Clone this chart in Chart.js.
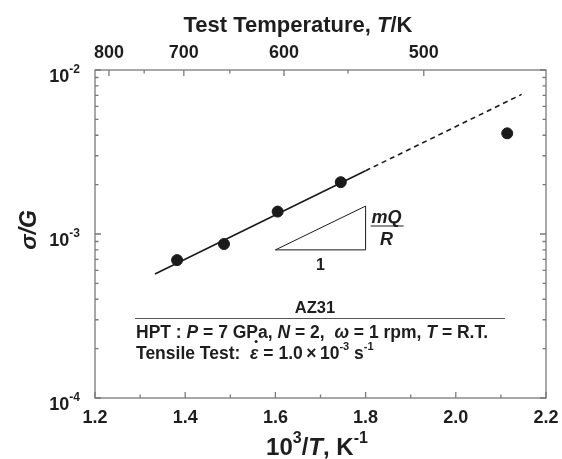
<!DOCTYPE html>
<html>
<head>
<meta charset="utf-8">
<script src="https://cdn.jsdelivr.net/npm/chart.js@4/dist/chart.umd.min.js"></script>
<style>
  html, body { margin: 0; padding: 0; background: #fff; }
  #wrap { width: 562px; height: 459px; }
</style>
</head>
<body>
<div id="wrap"><canvas id="arrheniusChart"></canvas></div>
<script>
// measured points: 10^3/T (K^-1) vs sigma/G
const invT = [1.382, 1.486, 1.605, 1.745, 2.114];
const stressRatio = [6.93e-4, 8.69e-4, 1.37e-3, 2.07e-3, 4.11e-3];

// fitted line, solid part and dashed extrapolation
const fitSolidX = [1.333, 1.80];
const fitSolidY = [5.70e-4, 2.43e-3];
const fitDashX = [1.80, 2.146];
const fitDashY = [2.43e-3, 7.1e-3];

// slope triangle
const slopeTriX = [1.6, 1.8, 1.8, 1.6];
const slopeTriY = [8.0e-4, 8.0e-4, 1.48e-3, 8.0e-4];

// axis ticks
const bottomTicks = [1.2, 1.4, 1.6, 1.8, 2.0, 2.2];
const bottomMinor = [1.3, 1.5, 1.7, 1.9, 2.1];
const topTempLabels = ['800', '700', '600', '500'];
const topTickPos = [1.231, 1.397, 1.619, 1.929];
const topMinorPos = [1.309, 1.499, 1.761];
const yDecades = [1e-4, 1e-3, 1e-2];
const yExponents = ['-4', '-3', '-2'];

const FONT = "'Liberation Sans', Arial, sans-serif";
const INK = '#1e1e1e';
const FRAME = '#7a7a7a';

const toPts = (xs, ys) => xs.map((x, i) => ({ x: x, y: ys[i] }));

// draws text made of parts: [text, flags] where flags may hold 'i' (italic) and 's' (superscript)
// returns the x where each part started
function richText(ctx, parts, x, y, align, size) {
    const fontOf = (f) => (f.includes('i') ? 'italic ' : '') + 'bold ' +
        (f.includes('s') ? Math.round(size * 0.65) : size) + 'px ' + FONT;
    let total = 0;
    const widths = parts.map(([t, f]) => {
        ctx.font = fontOf(f || '');
        const w = ctx.measureText(t).width;
        total += w;
        return w;
    });
    let cx = align === 'center' ? x - total / 2 : align === 'right' ? x - total : x;
    const starts = [];
    ctx.textAlign = 'left';
    ctx.textBaseline = 'alphabetic';
    parts.forEach(([t, f], i) => {
        f = f || '';
        ctx.font = fontOf(f);
        starts.push(cx);
        ctx.fillText(t, cx, f.includes('s') ? y - size * 0.5 : y);
        cx += widths[i];
    });
    return { starts: starts, widths: widths };
}

const framePlugin = {
    id: 'frame',
    beforeDatasetsDraw(chart) {
        const ctx = chart.ctx;
        const a = chart.chartArea;
        const xs = chart.scales.x;
        const ys = chart.scales.y;
        ctx.save();
        ctx.strokeStyle = FRAME;
        ctx.lineWidth = 1.3;
        ctx.strokeRect(a.left, a.top, a.right - a.left, a.bottom - a.top);
        ctx.beginPath();
        const tick = (x1, y1, x2, y2) => { ctx.moveTo(x1, y1); ctx.lineTo(x2, y2); };
        bottomTicks.forEach(v => { const p = xs.getPixelForValue(v); tick(p, a.bottom, p, a.bottom - 6); });
        bottomMinor.forEach(v => { const p = xs.getPixelForValue(v); tick(p, a.bottom, p, a.bottom - 3.5); });
        topTickPos.forEach(v => { const p = xs.getPixelForValue(v); tick(p, a.top, p, a.top + 6); });
        topMinorPos.forEach(v => { const p = xs.getPixelForValue(v); tick(p, a.top, p, a.top + 3.5); });
        for (let d = 0; d < yDecades.length; d++) {
            const p = ys.getPixelForValue(yDecades[d]);
            tick(a.left, p, a.left + 6, p);
            tick(a.right, p, a.right - 6, p);
            if (d < yDecades.length - 1) {
                for (let m = 2; m <= 9; m++) {
                    const q = ys.getPixelForValue(yDecades[d] * m);
                    tick(a.left, q, a.left + 3.5, q);
                    tick(a.right, q, a.right - 3.5, q);
                }
            }
        }
        ctx.stroke();
        ctx.restore();
    },
    afterDraw(chart) {
        const ctx = chart.ctx;
        const xs = chart.scales.x;
        const ys = chart.scales.y;
        ctx.save();
        ctx.fillStyle = INK;

        // y tick labels 10^n
        yDecades.forEach((v, i) => {
            const p = ys.getPixelForValue(v);
            richText(ctx, [['10'], [yExponents[i], 's']], 80, p + 12, 'right', 18);
        });

        // axis titles
        richText(ctx, [['Test Temperature, '], ['T', 'i'], ['/K']], 298, 32, 'center', 22);
        richText(ctx, [['10'], ['3', 's'], ['/'], ['T', 'i'], [', K'], ['-1', 's']], 317, 455, 'center', 24);
        ctx.save();
        ctx.translate(36, 230);
        ctx.rotate(-Math.PI / 2);
        richText(ctx, [['\u03C3/G', 'i']], 0, 0, 'center', 23);
        ctx.restore();

        // slope triangle labels
        const tx = xs.getPixelForValue(1.7);
        const tb = ys.getPixelForValue(8.0e-4);
        richText(ctx, [['1']], tx, tb + 20, 'center', 16);
        const fx = xs.getPixelForValue(1.8) + 21;
        richText(ctx, [['mQ', 'i']], fx, 223, 'center', 18);
        richText(ctx, [['R', 'i']], fx, 245, 'center', 18);
        ctx.strokeStyle = INK;
        ctx.lineWidth = 1.2;
        ctx.beginPath();
        ctx.moveTo(fx - 16, 226);
        ctx.lineTo(fx + 17, 226);
        ctx.stroke();

        // condition block
        richText(ctx, [['AZ31']], 315, 313, 'center', 16.5);
        ctx.strokeStyle = '#555';
        ctx.lineWidth = 1;
        ctx.beginPath();
        ctx.moveTo(135, 318.5);
        ctx.lineTo(505, 318.5);
        ctx.stroke();
        richText(ctx, [['HPT : '], ['P', 'i'], [' = 7 GPa, '], ['N', 'i'], [' = 2,  '], ['\u03C9', 'i'], [' = 1 rpm, '],
            ['T', 'i'], [' = R.T.']], 136, 338, 'left', 17.5);
        const r = richText(ctx, [['Tensile Test:  '], ['\u03B5', 'i'], [' = 1.0\u2009\u00D7\u200910'], ['-3', 's'],
            [' s'], ['-1', 's']], 136, 359, 'left', 17.5);
        // dot above epsilon (strain rate)
        ctx.beginPath();
        ctx.arc(r.starts[1] + r.widths[1] * 0.72, 341.5, 1.5, 0, Math.PI * 2);
        ctx.fill();
        ctx.restore();
    }
};

const noSidePad = (s) => { s.paddingLeft = 0; s.paddingRight = 0; s.paddingTop = 0; s.paddingBottom = 0; };

new Chart(document.getElementById('arrheniusChart'), {
    type: 'scatter',
    data: {
        datasets: [
            {
                label: 'AZ31 HPT',
                data: toPts(invT, stressRatio),
                backgroundColor: '#1a1a1a',
                borderColor: '#1a1a1a',
                pointRadius: 5.5,
                showLine: false
            },
            {
                label: 'fit',
                data: toPts(fitSolidX, fitSolidY),
                borderColor: '#1a1a1a',
                borderWidth: 1.6,
                pointRadius: 0,
                showLine: true
            },
            {
                label: 'extrapolation',
                data: toPts(fitDashX, fitDashY),
                borderColor: '#1a1a1a',
                borderWidth: 1.6,
                borderDash: [5, 4],
                pointRadius: 0,
                showLine: true
            },
            {
                label: 'slope',
                data: toPts(slopeTriX, slopeTriY),
                borderColor: '#1a1a1a',
                borderWidth: 1,
                pointRadius: 0,
                showLine: true
            }
        ]
    },
    options: {
        responsive: true,
        maintainAspectRatio: false,
        animation: false,
        events: [],
        layout: { padding: { top: 0, right: 16, bottom: 0, left: 0 } },
        plugins: {
            legend: { display: false },
            tooltip: { enabled: false },
            title: { display: false }
        },
        scales: {
            x: {
                type: 'linear',
                position: 'bottom',
                min: 1.2,
                max: 2.2,
                afterBuildTicks: (s) => { s.ticks = bottomTicks.map(v => ({ value: v })); },
                ticks: {
                    color: INK,
                    padding: 9,
                    maxRotation: 0,
                    font: { family: FONT, size: 18, weight: 'bold' },
                    callback: (v) => Number(v).toFixed(1)
                },
                grid: { display: false, drawTicks: false },
                border: { display: false },
                afterFit: (s) => { s.height = 61; noSidePad(s); }
            },
            x2: {
                type: 'linear',
                position: 'top',
                min: 1.2,
                max: 2.2,
                afterBuildTicks: (s) => { s.ticks = topTickPos.map(v => ({ value: v })); },
                ticks: {
                    color: INK,
                    padding: 6,
                    maxRotation: 0,
                    autoSkip: false,
                    font: { family: FONT, size: 18, weight: 'bold' },
                    callback: (v, i) => topTempLabels[i]
                },
                grid: { display: false, drawTicks: false },
                border: { display: false },
                afterFit: (s) => { s.height = 70; noSidePad(s); }
            },
            y: {
                type: 'logarithmic',
                min: 1e-4,
                max: 1e-2,
                ticks: { display: false },
                grid: { display: false, drawTicks: false },
                border: { display: false },
                afterFit: (s) => { s.width = 95; noSidePad(s); }
            }
        }
    },
    plugins: [framePlugin]
});
</script>
</body>
</html>
